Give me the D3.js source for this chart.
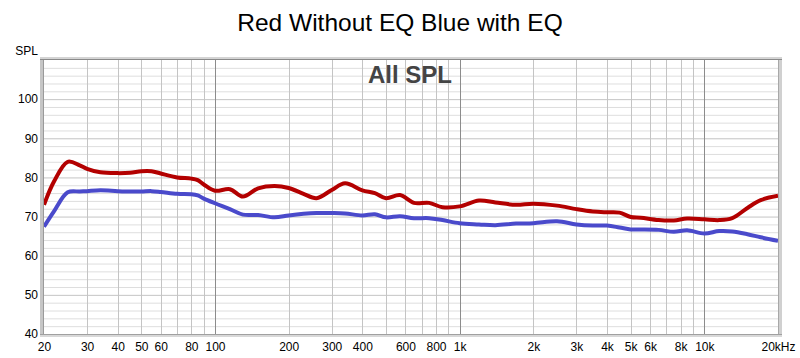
<!DOCTYPE html>
<html>
<head>
<meta charset="utf-8">
<script src="https://cdn.jsdelivr.net/npm/d3@7/dist/d3.min.js"></script>
<style>
  html, body { margin: 0; padding: 0; background: #fff; }
  svg { display: block; }
  text { font-family: "Liberation Sans", Arial, sans-serif; }
</style>
</head>
<body>
<svg id="chart" width="800" height="358"></svg>
<script>
// ---- Data ----
const title = "Red Without EQ Blue with EQ";
const subtitle = "All SPL";
const yLabel = "SPL";
const freqs = [20, 22, 25, 28, 30, 34, 40, 45, 50, 55, 60, 70, 80, 85, 90, 100, 115, 130, 150, 175,
  200, 230, 260, 300, 340, 400, 450, 500, 570, 650, 750, 850, 1000, 1200, 1400, 1700, 2000, 2500,
  3000, 3500, 4000, 4500, 5000, 5500, 6500, 7500, 8500, 10000, 11500, 13000, 15000, 17000, 20000];
const redWithoutEQ = [73.0, 79.0, 84.0, 83.1, 82.2, 81.3, 81.1, 81.2, 81.6, 81.6, 81.0, 80.0, 79.7, 79.3, 78.2,
  76.6, 77.0, 75.1, 77.2, 77.8, 77.3, 75.8, 74.7, 76.8, 78.5, 76.7, 76.0, 74.7, 75.5, 73.5, 73.5, 72.4,
  72.6, 74.1, 73.6, 73.0, 73.3, 72.8, 71.9, 71.3, 71.1, 71.0, 69.9, 69.7, 69.1, 69.0, 69.5, 69.3, 69.1,
  69.6, 72.2, 74.2, 75.3];
const blueWithEQ = [67.4, 71.4, 76.2, 76.4, 76.5, 76.7, 76.5, 76.4, 76.4, 76.5, 76.3, 75.8, 75.7, 75.4, 74.6,
  73.4, 71.9, 70.5, 70.4, 69.8, 70.3, 70.7, 70.9, 70.9, 70.8, 70.3, 70.6, 69.8, 70.1, 69.6, 69.6, 69.1,
  68.3, 68.0, 67.8, 68.2, 68.3, 68.8, 68.0, 67.7, 67.7, 67.2, 66.7, 66.7, 66.6, 66.1, 66.5, 65.7, 66.3,
  66.2, 65.5, 64.7, 63.8];
const xTickValues = [20, 30, 40, 50, 60, 80, 100, 200, 300, 400, 600, 800, 1000, 2000, 3000, 4000, 5000,
  6000, 8000, 10000, 20000];
const xTickLabels = ["20", "30", "40", "50", "60", "80", "100", "200", "300", "400", "600", "800", "1k",
  "2k", "3k", "4k", "5k", "6k", "8k", "10k", "20kHz"];
const yTickValues = [40, 50, 60, 70, 80, 90, 100];

// ---- Layout ----
const svg = d3.select("#chart");
const L = 44, R = 778, T = 60, B = 334;
const x = d3.scaleLog().domain([20, 20000]).range([L, R]);
const y = d3.scaleLinear().domain([40, 110]).range([B, T]);

svg.append("rect").attr("x", L).attr("y", T).attr("width", R - L).attr("height", B - T).attr("fill", "#fff");

// horizontal grid every 2 dB
const g = svg.append("g");
d3.range(42, 110, 2).forEach(v => {
  g.append("line").attr("x1", L).attr("x2", R).attr("y1", y(v) + 0.5).attr("y2", y(v) + 0.5)
    .attr("stroke", v % 10 === 0 ? "#c4c4c4" : "#dedede").attr("stroke-width", 1);
});
// vertical log grid
const vgrid = [];
[10, 100, 1000, 10000].forEach(d => { for (let k = 1; k <= 9; k++) { const f = d * k; if (f > 20 && f < 20000) vgrid.push(f); } });
vgrid.forEach(f => {
  const major = (f === 100 || f === 1000 || f === 10000);
  g.append("line").attr("x1", Math.round(x(f)) + 0.5).attr("x2", Math.round(x(f)) + 0.5)
    .attr("y1", T).attr("y2", B)
    .attr("stroke", major ? "#8c8c8c" : "#c4c4c4").attr("stroke-width", 1);
});

// frame (bevel-like)
svg.append("rect").attr("x", L - 4).attr("y", T - 2).attr("width", 4).attr("height", B - T + 4).attr("fill", "#c6c6c6");
svg.append("line").attr("x1", L - 0.5).attr("x2", L - 0.5).attr("y1", T).attr("y2", B + 1).attr("stroke", "#9a9a9a");
svg.append("rect").attr("x", R).attr("y", T - 2).attr("width", 4).attr("height", B - T + 4).attr("fill", "#d0d0d0");
svg.append("line").attr("x1", R + 0.5).attr("x2", R + 0.5).attr("y1", T).attr("y2", B + 1).attr("stroke", "#a8a8a8");
svg.append("rect").attr("x", L - 4).attr("y", T - 3).attr("width", R - L + 8).attr("height", 2).attr("fill", "#d4d4d4");
svg.append("line").attr("x1", L - 4).attr("x2", R + 4).attr("y1", T - 0.5).attr("y2", T - 0.5).attr("stroke", "#8a8a8a");
svg.append("line").attr("x1", L - 4).attr("x2", R + 4).attr("y1", B + 0.5).attr("y2", B + 0.5).attr("stroke", "#a0a0a0");
svg.append("rect").attr("x", L - 4).attr("y", B + 1).attr("width", R - L + 8).attr("height", 2).attr("fill", "#d8d8d8");

// axes
const yAxis = d3.axisLeft(y).tickValues(yTickValues).tickSize(0).tickPadding(6);
svg.append("g").attr("transform", `translate(${L},0)`).call(yAxis)
  .call(s => s.select(".domain").remove())
  .call(s => s.selectAll("text").attr("font-size", 12).attr("fill", "#000").attr("font-family", "Liberation Sans, Arial, sans-serif"));

const xAxis = d3.axisBottom(x).tickValues(xTickValues).tickSize(0).tickPadding(6)
  .tickFormat((d, i) => xTickLabels[i]);
svg.append("g").attr("transform", `translate(0,${B + 2})`).call(xAxis)
  .call(s => s.select(".domain").remove())
  .call(s => s.selectAll("text").attr("font-size", 12).attr("fill", "#000").attr("font-family", "Liberation Sans, Arial, sans-serif"));

// lines
const line = vals => d3.line().curve(d3.curveCatmullRom.alpha(0.5))
  .x((d, i) => x(freqs[i])).y(d => y(d))(vals);
svg.append("clipPath").attr("id", "clip").append("rect")
  .attr("x", L).attr("y", T).attr("width", R - L).attr("height", B - T);
svg.append("path").attr("d", line(blueWithEQ)).attr("fill", "none").attr("stroke", "#4a4acb")
  .attr("stroke-width", 4).attr("stroke-linejoin", "round").attr("clip-path", "url(#clip)");
svg.append("path").attr("d", line(redWithoutEQ)).attr("fill", "none").attr("stroke", "#b30000")
  .attr("stroke-width", 4).attr("stroke-linejoin", "round").attr("clip-path", "url(#clip)");

// texts
svg.append("text").attr("x", 400).attr("y", 31).attr("text-anchor", "middle")
  .attr("font-size", 24.5).attr("fill", "#000").text(title);
svg.append("text").attr("x", 410).attr("y", 83).attr("text-anchor", "middle")
  .attr("font-size", 24).attr("font-weight", "bold").attr("fill", "#444").text(subtitle);
svg.append("text").attr("x", 38).attr("y", 55).attr("text-anchor", "end")
  .attr("font-size", 12).attr("fill", "#000").text(yLabel);
</script>
</body>
</html>
